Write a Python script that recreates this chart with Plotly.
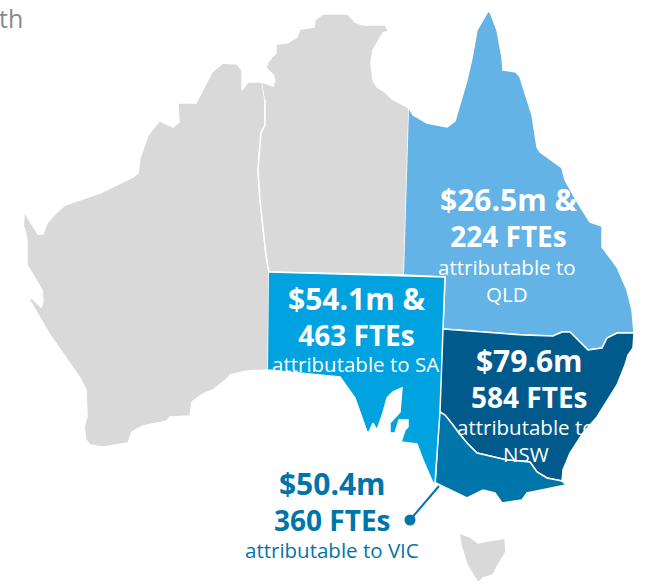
import plotly.graph_objects as go

# Outline traces
wa_x = [25,38,43,47,55,65,100,133,138,140,148,160,162,173,179,178,196,212,223,237,242,242,248,262,265,265,261,258,260,263,266,269,268,247,230,228,213,203,192,190,170,167,143,132,128,103,90,86,84,87,86,80,50,37,29,32,41,43,42,27,27,24]
wa_y = [213,234,234,223,214,205,193,177,173,158,135,120,122,127,122,103,103,72,63,64,70,90,82,82,100,125,133,170,200,225,255,272,370,371,375,378,390,394,402,416,417,421,426,432,443,447,445,440,427,417,390,378,335,313,299,298,307,302,290,265,240,227]
nt_x = [262,273,275,273,266,268,272,276,276,287,297,300,314,315,323,348,355,363,385,389,383,373,371,373,377,385,392,407,409,404,269,266,263,260,258,261,265,265]
nt_y = [82,86,80,75,68,62,57,53,44,43,37,29,27,20,14,14,22,25,25,31,33,50,63,80,87,92,99,107,108,275,272,255,225,200,170,133,125,100]
qld_x = [409,413,427,447,455,462,467,472,477,488,490,497,502,503,516,520,532,537,540,562,565,578,590,602,602,617,627,632,634,617,607,602,588,570,562,553,523,497,443,445,404]
qld_y = [108,115,123,127,121,98,80,58,30,11,12,30,57,70,72,77,115,147,152,168,180,203,222,226,247,267,290,310,333,333,338,348,350,332,332,336,335,333,329,277,275]
sa_x = [269,445,443,440,435,433,423,417,401,405,408,408,399,395,390,390,400,402,393,387,383,377,373,369,367,355,340,330,268]
sa_y = [272,277,329,412,483,483,460,444,442,430,427,420,420,433,433,423,412,388,392,398,413,430,423,432,432,398,377,376,370]
nsw_x = [443,497,523,553,562,570,588,602,607,617,634,633,628,625,617,597,583,570,563,562,547,537,530,507,477,467,458,453,445,440]
nsw_y = [329,333,335,336,332,332,350,348,338,333,333,348,355,365,385,417,433,453,470,481,478,472,462,460,453,443,432,425,415,412]
vic_x = [440,445,453,458,467,477,507,530,537,547,562,566,527,522,502,495,483,467,440,436]
vic_y = [412,415,425,432,443,453,460,462,472,478,481,485,493,500,503,493,490,498,485,483]
tas_x = [460,470,478,497,505,506,498,493,483,478,475,467,462]
tas_y = [533,537,543,539,538,552,565,575,578,583,578,565,548]
flinders_x = [505,508,508,507]
flinders_y = [520,523,528,523]
leader_x = [439,410]
leader_y = [486,520]

# Labels
amounts = ["$26.5m &", "$54.1m &", "$79.6m", "$50.4m"]
ftes = ["224 FTEs", "463 FTEs", "584 FTEs", "360 FTEs"]
notes = ["attributable to<br>QLD", "attributable to SA", "attributable to<br>NSW", "attributable to VIC"]

GREY = "#D9D9D9"
FONT = "Open Sans"
fig = go.Figure()
for x, y, c in [(wa_x, wa_y, GREY), (nt_x, nt_y, GREY), (qld_x, qld_y, "#63B3E6"),
                (nsw_x, nsw_y, "#005A8B"), (vic_x, vic_y, "#0075A9"), (sa_x, sa_y, "#00A3E0"),
                (tas_x, tas_y, GREY), (flinders_x, flinders_y, GREY)]:
    fig.add_trace(go.Scatter(x=x, y=y, mode="lines", fill="toself", fillcolor=c,
                             line=dict(color="white", width=1.5), hoverinfo="skip"))
fig.add_trace(go.Scatter(x=leader_x, y=leader_y, mode="lines+markers", hoverinfo="skip",
                         line=dict(color="#0075A9", width=2),
                         marker=dict(color="#0075A9", size=[0, 11], opacity=1, line=dict(width=0))))

def label(text, x, y, size, color="white", anchor="center"):
    fig.add_annotation(x=x, y=y, xref="x", yref="y", text=text,
                       xanchor=anchor, showarrow=False, borderpad=0,
                       font=dict(family=FONT, size=size, color=color))

hx = [508, 356, 529, 332]
hy = [217, 316, 378, 501]
nx = [507, 355, 526, 332]
ny = [280, 364, 440, 550]
colors = ["white", "white", "white", "#0075A9"]
for i in range(4):
    label(f'<b><span style="font-size:30px">{amounts[i]}</span><br>{ftes[i]}</b>', hx[i], hy[i], 28, colors[i])
    label(notes[i], nx[i], ny[i], 20.5, colors[i])
label("th", 24, 18, 25, "#8A8A8A", anchor="right")

fig.update_layout(width=654, height=584, margin=dict(l=0, r=0, t=0, b=0), showlegend=False,
                  paper_bgcolor="white", plot_bgcolor="white",
                  xaxis=dict(range=[0, 654], visible=False, fixedrange=True),
                  yaxis=dict(range=[584, 0], visible=False, fixedrange=True))
fig.write_html("out.html", config={"displayModeBar": False},
               post_script="document.body.style.margin='0';document.documentElement.style.overflow='hidden';")
